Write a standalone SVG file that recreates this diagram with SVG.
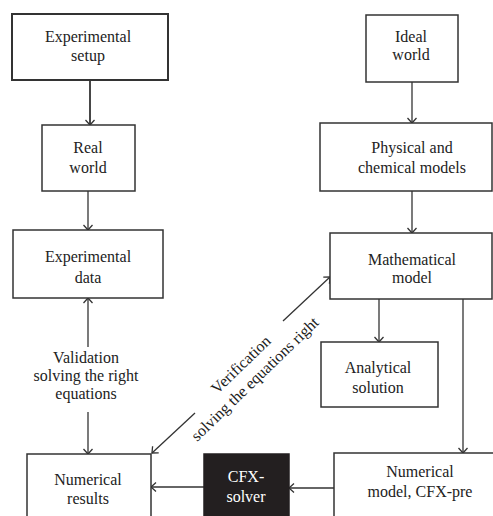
<svg xmlns="http://www.w3.org/2000/svg" width="493" height="516" viewBox="0 0 493 516">
<style>
.box{fill:#ffffff;stroke:#333333;stroke-width:1.5}
.dark{fill:#231f20;stroke:#231f20;stroke-width:1.5}
.t{font-family:"Liberation Serif","Times New Roman",serif;font-size:16px;fill:#222222;text-anchor:middle}
.w{fill:#ffffff}
.c{fill:none;stroke:#333333;stroke-width:1.3}
</style>
<defs>
<marker id="ah" viewBox="-7 -6 8 12" markerWidth="8" markerHeight="12" refX="0" refY="0" orient="auto" markerUnits="userSpaceOnUse">
<path d="M-5,-4.5 L0,0 L-5,4.5" fill="none" stroke="#333333" stroke-width="1.3"/>
</marker>
</defs>
<rect width="493" height="516" fill="#ffffff"/>
<g id="connectors">
<line class="c" x1="90" y1="80" x2="90" y2="125" marker-end="url(#ah)" style="stroke-width:1.8"/>
<line class="c" x1="88" y1="191" x2="88" y2="230" marker-end="url(#ah)"/>
<line class="c" x1="88" y1="347" x2="88" y2="298" marker-end="url(#ah)"/>
<line class="c" x1="88" y1="412" x2="88" y2="454" marker-end="url(#ah)"/>
<line class="c" x1="195" y1="413" x2="152" y2="453" marker-end="url(#ah)"/>
<line class="c" x1="283" y1="321" x2="330" y2="277" marker-end="url(#ah)"/>
<line class="c" x1="412" y1="82" x2="412" y2="123" marker-end="url(#ah)"/>
<line class="c" x1="412" y1="191" x2="412" y2="233" marker-end="url(#ah)"/>
<line class="c" x1="379" y1="299" x2="379" y2="342" marker-end="url(#ah)"/>
<line class="c" x1="463" y1="299" x2="463" y2="453" marker-end="url(#ah)"/>
<line class="c" x1="334" y1="488" x2="289" y2="488" marker-end="url(#ah)"/>
<line class="c" x1="204" y1="487" x2="151" y2="487" marker-end="url(#ah)"/>
<text class="t"><tspan x="86" y="363">Validation</tspan><tspan x="86" y="381">solving the right</tspan><tspan x="86" y="399">equations</tspan></text>
<text class="t" transform="translate(248,372) rotate(-44)"><tspan x="0" y="-5">Verification</tspan><tspan x="0" y="15">solving the equations right</tspan></text>
</g>
<g id="experimental-setup">
<rect class="box" x="12" y="14" width="156" height="66" style="stroke-width:2"/>
<text class="t"><tspan x="88" y="42">Experimental</tspan><tspan x="88" y="61">setup</tspan></text>
</g>
<g id="real-world">
<rect class="box" x="42" y="125" width="93" height="66"/>
<text class="t"><tspan x="88" y="153">Real</tspan><tspan x="88" y="173">world</tspan></text>
</g>
<g id="experimental-data">
<rect class="box" x="13" y="230" width="150" height="68"/>
<text class="t"><tspan x="88" y="262">Experimental</tspan><tspan x="88" y="283">data</tspan></text>
</g>
<g id="numerical-results">
<rect class="box" x="27" y="454" width="124" height="80"/>
<text class="t"><tspan x="88" y="485">Numerical</tspan><tspan x="88" y="504">results</tspan></text>
</g>
<g id="cfx-solver">
<rect class="dark" x="204" y="454" width="85" height="80"/>
<text class="t w"><tspan x="246" y="482">CFX-</tspan><tspan x="246" y="502">solver</tspan></text>
</g>
<g id="ideal-world">
<rect class="box" x="366" y="15" width="92" height="67"/>
<text class="t"><tspan x="411" y="42">Ideal</tspan><tspan x="411" y="60">world</tspan></text>
</g>
<g id="physical-chemical-models">
<rect class="box" x="320" y="123" width="172" height="68"/>
<text class="t"><tspan x="412" y="153">Physical and</tspan><tspan x="412" y="173">chemical models</tspan></text>
</g>
<g id="mathematical-model">
<rect class="box" x="330" y="233" width="162" height="66"/>
<text class="t"><tspan x="412" y="265">Mathematical</tspan><tspan x="412" y="283">model</tspan></text>
</g>
<g id="analytical-solution">
<rect class="box" x="321" y="342" width="117" height="65"/>
<text class="t"><tspan x="378" y="373">Analytical</tspan><tspan x="378" y="393">solution</tspan></text>
</g>
<g id="numerical-model">
<rect class="box" x="334" y="453" width="170" height="80"/>
<text class="t"><tspan x="420" y="477">Numerical</tspan><tspan x="420" y="497">model, CFX-pre</tspan></text>
</g>
</svg>
